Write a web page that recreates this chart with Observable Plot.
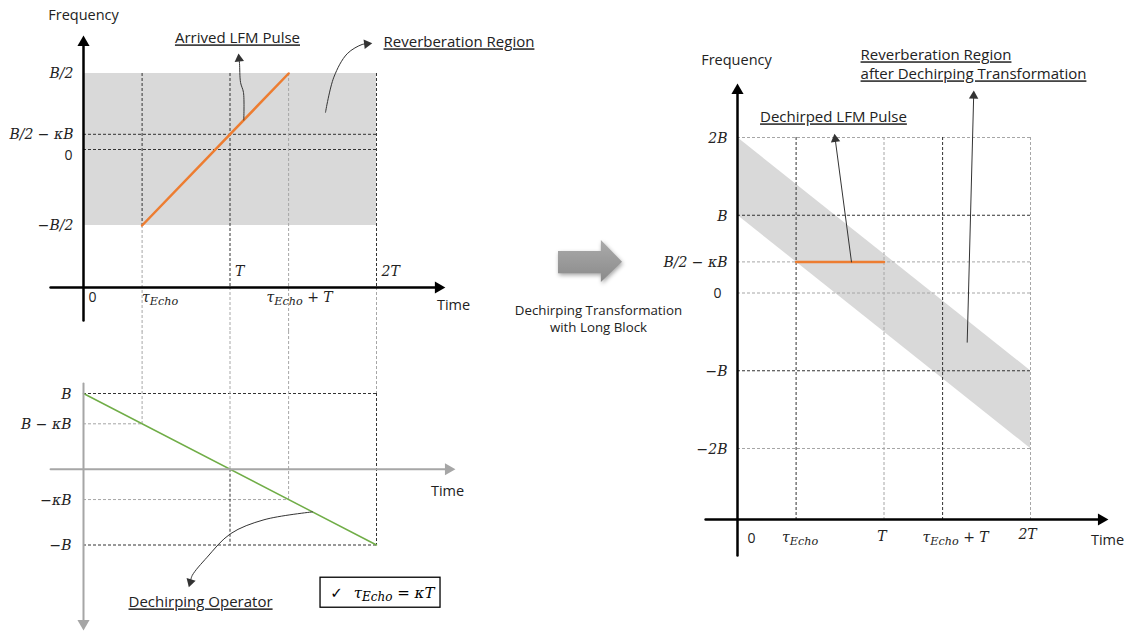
<!DOCTYPE html>
<html><head><meta charset="utf-8">
<script src="https://cdn.jsdelivr.net/npm/d3@7"></script>
<script src="https://cdn.jsdelivr.net/npm/@observablehq/plot@0.6"></script>
<style>
body{margin:0;background:#fff;}
#wrap{position:relative;width:1130px;height:632px;overflow:hidden;background:#fff;}
#wrap svg{position:absolute;left:0;top:0;}
#blk{position:absolute;left:558px;top:240px;width:64px;height:42px;filter:drop-shadow(1px 2px 2px rgba(0,0,0,0.35));}
#blk div{width:100%;height:100%;background:linear-gradient(#ababab,#8a8a8a);clip-path:polygon(0 26%,67% 26%,67% 0,100% 52%,67% 100%,67% 79%,0 79%);}
text{white-space:pre;}
</style></head><body><div id="wrap"><div id="blk"><div></div></div></div>
<script>
// ---------------- data ----------------
const timeTicks = [0, 0.4, 1, 1.4, 2];                 // 0, τ_Echo, T, τ_Echo+T, 2T  (κ = 0.4)
const timeLabels = ["0", "τ_{Echo}", "T", "τ_{Echo} + T", "2T"];
const topFreqTicks = [0.5, 0.1, 0, -0.5];
const topFreqLabels = ["B/2", "B/2 − κB", "0", "−B/2"];
const opFreqTicks = [1, 0.6, -0.4, -1];
const opFreqLabels = ["B", "B − κB", "−κB", "−B"];
const outFreqTicks = [2, 1, 0.4, 0, -1, -2];
const outFreqLabels = ["2B", "B", "B/2 − κB", "0", "−B", "−2B"];
const arrivedPulse = [{t: 0.4, f: -0.5}, {t: 1.4, f: 0.5}];
const reverbRegion = [{t1: 0, t2: 2, f1: -0.5, f2: 0.5}];
const dechirpOperator = [{t: 0, f: 1}, {t: 2, f: -1}];
const dechirpedPulse = [{t: 0.4, f: 0.4}, {t: 1, f: 0.4}];
const reverbBand = [{t: 0, lo: 1, hi: 2}, {t: 2, lo: -2, hi: -1}];

// ---------------- styling ----------------
const SANS = "'Open Sans','Noto Sans',sans-serif";
const SERIF = "'DejaVu Serif',serif";
const serif = {fontFamily: SERIF, fontStyle: "italic", fontSize: 14, fill: "#222"};
const sans = {fontFamily: SANS, fontSize: 14, fill: "#222"};
const note = {fontFamily: SANS, fontSize: 15, fill: "#222"};
const dark = {stroke: "#333", strokeWidth: 1, strokeDasharray: "3,2"};
const light = {stroke: "#a6a6a6", strokeWidth: 1, strokeDasharray: "3,2"};
const UNDERLINED = ["Arrived LFM Pulse", "Reverberation Region", "Dechirping Operator", "Dechirped LFM Pulse", "after Dechirping Transformation"];

const [t0, tE, t1, tET, t2] = timeTicks;

// panel scales
const S1 = {x: {domain: [0, 2], range: [83, 376]}, y: {domain: [-0.5, 0.5], range: [225, 73]}};
const S2 = {x: {domain: [0, 2], range: [83, 376]}, y: {domain: [-1, 1], range: [544.5, 393]}};
const S3 = {x: {domain: [0, 2], range: [737, 1030]}, y: {domain: [-2, 2], range: [448, 137]}};

function head(S, prev, tip, r) {
  const sx = Plot.scale({x: S.x}), sy = Plot.scale({y: S.y});
  const px = sx.apply(prev[0]), py = sy.apply(prev[1]), tx = sx.apply(tip[0]), ty = sy.apply(tip[1]);
  const L = Math.hypot(tx - px, ty - py), ux = (tx - px) / L, uy = (ty - py) / L, c = 0.7776 * r;
  return {x: sx.invert(tx - 2 * c * ux), y: sy.invert(ty - 2 * c * uy), rotate: Math.atan2(ux, -uy) * 180 / Math.PI};
}
function arrow(S, pts, {r = 3.5, color = "#333", width = 1, curve = "catmull-rom"} = {}) {
  const h = head(S, pts[pts.length - 2], pts[pts.length - 1], r);
  const shaft = pts.slice(0, -1).concat([[h.x, h.y]]);
  return [
    Plot.line(shaft, {x: d => d[0], y: d => d[1], curve, stroke: color, strokeWidth: width}),
    Plot.dot([h], {x: "x", y: "y", rotate: "rotate", symbol: "triangle", r, fill: color, stroke: "none"})
  ];
}
const lab = (i, arrT, arrL) => [{v: arrT[i], s: arrL[i]}];

function fixText(svg) {
  svg.querySelectorAll("text").forEach(t => {
    const s = t.textContent;
    if (UNDERLINED.includes(s)) t.style.textDecoration = "underline";
    if (!s.includes("_{") || t.querySelector("tspan")) return;
    t.textContent = "";
    const ns = "http://www.w3.org/2000/svg";
    const re = /_\{([^}]*)\}/g; let last = 0, m, restore = false;
    const add = (str, sub) => {
      if (!str) return;
      const sp = document.createElementNS(ns, "tspan");
      sp.textContent = str;
      if (sub) { sp.setAttribute("font-size", "80%"); sp.setAttribute("dy", "0.3em"); restore = true; }
      else if (restore) { sp.setAttribute("dy", "-0.24em"); restore = false; }
      t.appendChild(sp);
    };
    while ((m = re.exec(s))) { add(s.slice(last, m.index)); add(m[1], true); last = re.lastIndex; }
    add(s.slice(last));
  });
}
function panel(S, marks) {
  const svg = Plot.plot({
    width: 1130, height: 632, margin: 0,
    x: {...S.x, axis: null}, y: {...S.y, axis: null},
    style: {background: "transparent", overflow: "visible"},
    marks
  });
  fixText(svg);
  document.getElementById("wrap").appendChild(svg);
}

// ---------------- panel 1: arrived pulse ----------------
const AX1 = -0.908;
panel(S1, [
  Plot.rect(reverbRegion, {x1: "t1", x2: "t2", y1: "f1", y2: "f2", fill: "#d9d9d9"}),
  Plot.ruleY(topFreqTicks.slice(1, 3), {x1: t0, x2: t2, ...dark}),
  Plot.ruleX([{t: tE, a: 0.5, b: -0.5}, {t: t1, a: 0.5, b: AX1}, {t: t2, a: 0.5, b: AX1}], {x: "t", y1: "a", y2: "b", ...dark}),
  Plot.ruleX([{t: tE, a: -0.5, b: -1.2}, {t: t1, a: AX1, b: -1.2}, {t: tET, a: 0.5, b: -1.2}, {t: t2, a: AX1, b: -1.2}], {x: "t", y1: "a", y2: "b", ...light}),
  Plot.line(arrivedPulse, {x: "t", y: "f", stroke: "#ed7d31", strokeWidth: 2.5}),
  ...arrow(S1, [[0, -1.125], [0, 0.75]], {r: 4.5, color: "#000", width: 2.5, curve: "linear"}),
  ...arrow(S1, [[-0.225, AX1], [2.47, AX1]], {r: 4.5, color: "#000", width: 2.5, curve: "linear"}),
  Plot.text(topFreqTicks.map((v, i) => ({v, s: topFreqLabels[i]})).filter(d => d.s !== "0"), {x: 0, y: "v", text: "s", textAnchor: "end", dx: -10, ...serif}),
  Plot.text(lab(2, topFreqTicks, topFreqLabels), {x: 0, y: "v", text: "s", textAnchor: "end", dx: -11, dy: 6, ...sans}),
  Plot.text(lab(0, timeTicks, timeLabels), {x: "v", y: AX1, text: "s", textAnchor: "start", dx: 5, dy: 10, ...sans}),
  Plot.text(lab(1, timeTicks, timeLabels), {x: "v", y: AX1, text: "s", textAnchor: "start", dx: 0, dy: 10, ...serif}),
  Plot.text(lab(3, timeTicks, timeLabels), {x: "v", y: AX1, text: "s", textAnchor: "middle", dx: 11, dy: 10, ...serif}),
  Plot.text([lab(2, timeTicks, timeLabels)[0], lab(4, timeTicks, timeLabels)[0]], {x: "v", y: AX1, text: "s", textAnchor: "start", dx: 5, dy: -16, ...serif}),
  Plot.text(["Frequency"], {x: 0, y: 0.882, text: d => d, ...sans, fontSize: 14.5}),
  Plot.text(["Time"], {x: 2.526, y: -1.026, text: d => d, ...sans, fontSize: 14.5}),
  Plot.text(["Arrived LFM Pulse"], {x: 1.051, y: 0.73, text: d => d, ...note}),
  Plot.text(["Reverberation Region"], {x: 2.048, y: 0.704, text: d => d, textAnchor: "start", ...note}),
  ...arrow(S1, [[1.094, 0.194], [1.092, 0.375], [1.072, 0.441], [1.065, 0.566], [1.058, 0.632]]),
  ...arrow(S1, [[1.652, 0.245], [1.709, 0.476], [1.8, 0.63], [1.902, 0.691], [1.971, 0.699]])
]);

// ---------------- panel 2: dechirping operator ----------------
const TOP2 = 1.818;
panel(S2, [
  Plot.ruleY([opFreqTicks[0], opFreqTicks[3]], {x1: t0, x2: t2, ...dark}),
  Plot.ruleY([{f: opFreqTicks[1], e: tE}, {f: opFreqTicks[2], e: tET}], {y: "f", x1: t0, x2: "e", ...light}),
  Plot.ruleX([{t: tE, b: opFreqTicks[1]}, {t: t1, b: 0}, {t: tET, b: opFreqTicks[2]}, {t: t2, b: opFreqTicks[0]}], {x: "t", y1: TOP2, y2: "b", ...light}),
  Plot.ruleX([{t: t1, a: 0}, {t: t2, a: opFreqTicks[0]}], {x: "t", y1: "a", y2: opFreqTicks[3], ...dark}),
  Plot.line(dechirpOperator, {x: "t", y: "f", stroke: "#70ad47", strokeWidth: 1.5}),
  ...arrow(S2, [[0, 1.132], [0, -2.129]], {r: 4.5, color: "#a6a6a6", width: 2, curve: "linear"}),
  ...arrow(S2, [[-0.225, 0], [2.539, 0]], {r: 4.5, color: "#a6a6a6", width: 2, curve: "linear"}),
  Plot.text(opFreqTicks.map((v, i) => ({v, s: opFreqLabels[i]})), {x: 0, y: "v", text: "s", textAnchor: "end", dx: -12, dy: 1, ...serif}),
  Plot.text(["Time"], {x: 2.485, y: -0.294, text: d => d, ...sans, fontSize: 14.5}),
  ...arrow(S2, [[1.563, -0.563], [1.232, -0.667], [1.003, -0.852], [0.844, -1.161], [0.742, -1.403], [0.719, -1.557]]),
  Plot.text(["Dechirping Operator"], {x: 0.799, y: -1.76, text: d => d, ...note}),
  Plot.rect([{}], {x1: 1.618, x2: 2.437, y1: -1.432, y2: -1.828, fill: "white", stroke: "#000", strokeWidth: 1.3}),
  Plot.text(["✓"], {x: 1.727, y: -1.63, text: d => d, fontFamily: "'DejaVu Sans',sans-serif", fontSize: 15, fontWeight: "bold", fill: "#000"}),
  Plot.text(["τ_{Echo} = κT"], {x: 2.12, y: -1.63, text: d => d, ...serif, fontSize: 15, fill: "#000"})
]);

// ---------------- panel 3: after dechirping ----------------
const AX3 = -2.913;
panel(S3, [
  Plot.area(reverbBand, {x1: "t", y1: "lo", y2: "hi", fill: "#d9d9d9"}),
  Plot.ruleY([outFreqTicks[0], outFreqTicks[2], outFreqTicks[3], outFreqTicks[5]], {x1: t0, x2: t2, ...light}),
  Plot.ruleY([outFreqTicks[1], outFreqTicks[4]], {x1: t0, x2: t2, ...dark}),
  Plot.ruleX([tE, tET], {y1: outFreqTicks[0], y2: AX3, ...dark}),
  Plot.ruleX([t1, t2], {y1: outFreqTicks[0], y2: AX3, ...light}),
  Plot.line(dechirpedPulse, {x: "t", y: "f", stroke: "#ed7d31", strokeWidth: 2.5}),
  ...arrow(S3, [[0, -3.376], [0, 2.695]], {r: 4.5, color: "#000", width: 2.5, curve: "linear"}),
  ...arrow(S3, [[-0.218, AX3], [2.532, AX3]], {r: 4.5, color: "#000", width: 2.5, curve: "linear"}),
  Plot.text(outFreqTicks.map((v, i) => ({v, s: outFreqLabels[i]})).filter(d => d.s !== "0"), {x: 0, y: "v", text: "s", textAnchor: "end", dx: -10, dy: 1, ...serif}),
  Plot.text(lab(3, outFreqTicks, outFreqLabels), {x: 0, y: "v", text: "s", textAnchor: "end", dx: -16, dy: 1, ...sans}),
  Plot.text(lab(0, timeTicks, timeLabels), {x: "v", y: AX3, text: "s", dx: 14, dy: 19, ...sans}),
  Plot.text(lab(1, timeTicks, timeLabels), {x: "v", y: AX3, text: "s", dx: 4, dy: 18, ...serif}),
  Plot.text(lab(2, timeTicks, timeLabels), {x: "v", y: AX3, text: "s", dx: -2, dy: 17, ...serif}),
  Plot.text(lab(3, timeTicks, timeLabels), {x: "v", y: AX3, text: "s", dx: 13, dy: 18, ...serif}),
  Plot.text(lab(4, timeTicks, timeLabels), {x: "v", y: AX3, text: "s", dx: -3, dy: 15, ...serif}),
  Plot.text(["Frequency"], {x: -0.007, y: 2.99, text: d => d, ...sans, fontSize: 14.5}),
  Plot.text(["Time"], {x: 2.526, y: -3.18, text: d => d, ...sans, fontSize: 14.5}),
  Plot.text(["Dechirped LFM Pulse"], {x: 0.655, y: 2.257, text: d => d, ...note}),
  Plot.text(["Reverberation Region", "after Dechirping Transformation"], {x: 0.84, y: (d, i) => [3.055, 2.81][i], text: d => d, textAnchor: "start", ...note}),
  ...arrow(S3, [[0.778, 0.4], [0.662, 2.048]], {curve: "linear"}),
  ...arrow(S3, [[1.568, -0.633], [1.613, 2.604]], {curve: "linear"}),
  Plot.text(["Dechirping Transformation", "with Long Block"], {x: -0.949, y: (d, i) => [-0.225, -0.444][i], text: d => d, ...sans, fontSize: 13.3})
]);
</script></body></html>
